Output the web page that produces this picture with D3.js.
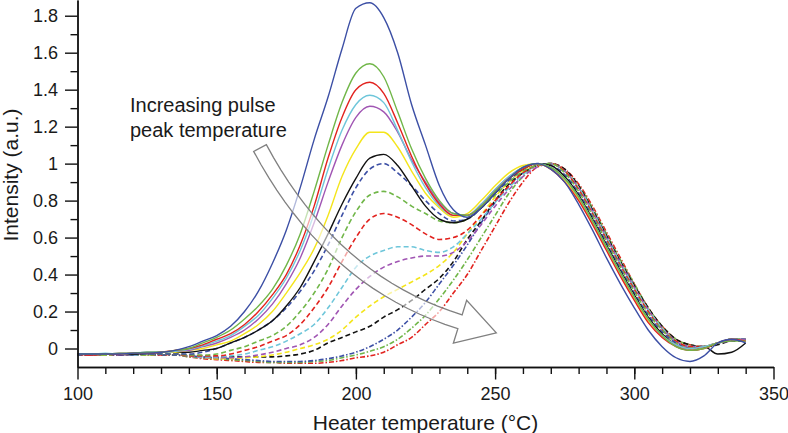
<html>
<head>
    <title>Heater temperature scans</title>
    <meta charset="UTF-8" />
    <script src="https://d3js.org/d3.v7.min.js"></script>
    <style>
        body { margin: 0; background: white; }
        text { font-family: "Liberation Sans", Arial, sans-serif; fill: #1a1a1a; }
        .axis path, .axis line { stroke: #111; stroke-width: 1.4; }
        .axis text { font-size: 18px; fill: #1a1a1a; font-family: "Liberation Sans", Arial, sans-serif; }
    </style>
</head>
<body>
    <svg id="svg" width="788" height="433"></svg>

    <script>
        // temperatures (°C), one reading every 5 degrees
        const temps = [100,105,110,115,120,125,130,
            135,140,145,150,155,160,165,170,175,180,185,190,195,
            200,205,210,215,220,225,230,235,240,245,250,255,260,
            265,270,275,280,285,290,295,300,305,310,315,320,325,330,335,340];

        // solid curves
        const blueSolid = [-0.03,-0.03,-0.03,-0.03,-0.025,-0.025,-0.02,
            -0.01,0.01,0.04,0.07,0.12,0.2,0.31,0.46,0.64,0.87,1.13,1.36,1.62,
            1.84,1.87,1.79,1.6,1.32,1.1,0.88,0.75,0.71,0.76,0.84,0.92,0.98,
            1.0,0.97,0.9,0.78,0.64,0.49,0.35,0.22,0.1,0.01,-0.05,-0.07,-0.04,0.03,0.05,0.03];
        const greenSolid = [-0.03,-0.03,-0.03,-0.025,-0.025,-0.02,-0.02,
            -0.01,0.0,0.03,0.06,0.1,0.16,0.23,0.32,0.45,0.62,0.85,1.1,1.33,
            1.49,1.54,1.47,1.28,1.08,0.92,0.8,0.73,0.72,0.77,0.85,0.92,0.98,
            1.0,0.98,0.92,0.82,0.69,0.55,0.41,0.28,0.16,0.07,0.01,-0.01,0.0,0.03,0.04,0.04];
        const redSolid = [-0.03,-0.035,-0.03,-0.03,-0.025,-0.025,-0.02,
            -0.01,0.0,0.02,0.05,0.08,0.13,0.2,0.29,0.4,0.56,0.77,1.03,1.25,
            1.4,1.44,1.38,1.22,1.04,0.89,0.78,0.72,0.72,0.77,0.85,0.92,0.97,
            1.0,0.97,0.9,0.8,0.67,0.53,0.39,0.26,0.14,0.06,0.01,-0.01,0.0,0.03,0.05,0.04];
        const cyanSolid = [-0.03,-0.03,-0.025,-0.03,-0.025,-0.02,-0.02,
            -0.015,-0.005,0.015,0.04,0.07,0.12,0.18,0.27,0.38,0.53,0.73,0.97,1.18,
            1.32,1.37,1.33,1.18,1.01,0.87,0.77,0.72,0.72,0.78,0.86,0.93,0.98,
            1.0,0.98,0.92,0.82,0.69,0.55,0.41,0.28,0.16,0.07,0.02,0.0,0.01,0.03,0.05,0.04];
        const purpleSolid = [-0.03,-0.03,-0.03,-0.025,-0.025,-0.02,-0.02,
            -0.015,-0.01,0.01,0.03,0.06,0.1,0.16,0.24,0.35,0.49,0.68,0.9,1.1,
            1.25,1.31,1.28,1.17,1.02,0.9,0.79,0.73,0.72,0.78,0.86,0.93,0.98,
            1.0,0.98,0.92,0.82,0.69,0.55,0.41,0.28,0.16,0.07,0.02,0.0,0.01,0.03,0.04,0.05];
        const yellowSolid = [-0.03,-0.03,-0.03,-0.03,-0.025,-0.025,-0.02,
            -0.02,-0.01,0.0,0.02,0.04,0.08,0.13,0.2,0.3,0.41,0.54,0.72,0.93,
            1.08,1.17,1.17,1.09,0.96,0.84,0.76,0.71,0.73,0.8,0.88,0.95,0.99,
            1.0,0.97,0.91,0.81,0.68,0.54,0.4,0.27,0.15,0.07,0.02,0.0,0.01,0.03,0.05,0.04];
        const blackSolid = [-0.03,-0.03,-0.03,-0.03,-0.03,-0.025,-0.02,
            -0.02,-0.02,-0.01,0.0,0.03,0.06,0.1,0.15,0.23,0.33,0.47,0.62,0.78,
            0.92,1.03,1.05,0.99,0.88,0.77,0.7,0.68,0.7,0.76,0.84,0.92,0.97,
            1.0,0.99,0.93,0.83,0.7,0.56,0.42,0.29,0.17,0.08,0.02,0.0,0.01,-0.03,-0.02,0.03];

        // dashed curves
        const blueDash = [-0.03,-0.03,-0.03,-0.035,-0.03,-0.03,-0.03,
            -0.03,-0.03,-0.02,0.0,0.03,0.06,0.1,0.15,0.22,0.31,0.42,0.56,0.72,
            0.87,0.97,1.0,0.95,0.88,0.8,0.73,0.69,0.7,0.76,0.84,0.91,0.97,
            1.0,0.99,0.94,0.84,0.71,0.57,0.43,0.3,0.18,0.09,0.03,0.0,0.01,0.03,0.05,0.05];
        const greenDash = [-0.03,-0.03,-0.035,-0.03,-0.03,-0.035,-0.03,
            -0.03,-0.035,-0.035,-0.03,-0.01,0.01,0.04,0.07,0.12,0.2,0.3,0.43,0.6,
            0.74,0.83,0.85,0.82,0.77,0.73,0.69,0.68,0.7,0.76,0.83,0.9,0.96,
            0.99,1.0,0.95,0.85,0.72,0.58,0.44,0.31,0.19,0.1,0.03,0.0,0.01,0.03,0.05,0.05];
        const redDash = [-0.03,-0.035,-0.03,-0.035,-0.03,-0.03,-0.035,
            -0.03,-0.04,-0.04,-0.04,-0.03,-0.01,0.01,0.04,0.07,0.13,0.22,0.33,0.47,
            0.6,0.7,0.73,0.71,0.67,0.62,0.59,0.6,0.64,0.72,0.8,0.88,0.95,
            0.99,1.0,0.96,0.86,0.73,0.59,0.45,0.32,0.2,0.1,0.04,0.01,0.01,0.03,0.05,0.04];
        const cyanDash = [-0.03,-0.03,-0.03,-0.03,-0.035,-0.03,-0.03,
            -0.03,-0.04,-0.045,-0.045,-0.04,-0.03,-0.01,0.01,0.04,0.08,0.13,0.22,0.33,
            0.44,0.5,0.53,0.55,0.55,0.53,0.52,0.55,0.62,0.7,0.79,0.87,0.94,
            0.99,1.0,0.96,0.87,0.74,0.6,0.46,0.33,0.21,0.11,0.04,0.01,0.01,0.03,0.05,0.05];
        const purpleDash = [-0.03,-0.035,-0.03,-0.03,-0.035,-0.03,-0.03,
            -0.03,-0.04,-0.05,-0.05,-0.05,-0.045,-0.035,-0.02,0.0,0.02,0.06,0.13,0.23,
            0.32,0.39,0.44,0.47,0.49,0.5,0.5,0.52,0.58,0.67,0.77,0.86,0.93,
            0.98,1.0,0.96,0.87,0.74,0.6,0.46,0.33,0.21,0.11,0.04,0.01,0.01,0.03,0.05,0.05];
        const yellowDash = [-0.03,-0.03,-0.035,-0.03,-0.03,-0.035,-0.03,
            -0.03,-0.04,-0.05,-0.055,-0.055,-0.05,-0.045,-0.035,-0.02,0.0,0.02,0.05,0.1,
            0.17,0.23,0.28,0.32,0.36,0.4,0.45,0.52,0.62,0.72,0.82,0.9,0.96,
            0.99,1.0,0.96,0.87,0.74,0.6,0.46,0.33,0.21,0.11,0.04,0.01,0.01,0.03,0.05,0.05];
        const blackDash = [-0.03,-0.035,-0.03,-0.03,-0.035,-0.03,-0.03,
            -0.03,-0.035,-0.04,-0.045,-0.045,-0.045,-0.045,-0.045,-0.04,-0.03,-0.01,0.03,0.06,
            0.09,0.12,0.17,0.21,0.26,0.32,0.38,0.47,0.59,0.69,0.8,0.89,0.95,
            0.99,1.0,0.97,0.88,0.75,0.61,0.47,0.34,0.22,0.12,0.05,0.02,0.01,0.02,0.04,0.04];

        // dash-dot curves
        const blueDashDot = [-0.035,-0.035,-0.03,-0.035,-0.035,-0.03,-0.035,
            -0.035,-0.04,-0.045,-0.05,-0.055,-0.06,-0.065,-0.07,-0.07,-0.07,-0.065,-0.055,-0.04,
            -0.02,0.01,0.05,0.1,0.17,0.25,0.35,0.45,0.56,0.68,0.79,0.88,0.95,
            0.99,1.0,0.96,0.87,0.75,0.61,0.47,0.34,0.21,0.11,0.04,0.01,0.01,0.03,0.05,0.05];
        const greenDashDot = [-0.035,-0.035,-0.035,-0.03,-0.035,-0.035,-0.035,
            -0.035,-0.045,-0.05,-0.055,-0.06,-0.065,-0.07,-0.075,-0.075,-0.075,-0.07,-0.065,-0.05,
            -0.035,-0.015,0.01,0.05,0.11,0.18,0.27,0.37,0.48,0.6,0.72,0.84,0.93,
            0.99,1.0,0.96,0.88,0.76,0.62,0.48,0.35,0.22,0.12,0.05,0.02,0.01,0.03,0.05,0.05];
        const redDashDot = [-0.035,-0.035,-0.035,-0.035,-0.03,-0.035,-0.035,
            -0.035,-0.045,-0.055,-0.06,-0.065,-0.07,-0.075,-0.075,-0.08,-0.08,-0.08,-0.075,-0.065,
            -0.05,-0.04,-0.02,0.02,0.06,0.13,0.2,0.3,0.4,0.53,0.66,0.79,0.9,
            0.98,1.0,0.97,0.89,0.77,0.63,0.49,0.35,0.22,0.12,0.05,0.02,0.01,0.03,0.05,0.04];

        // tick labels
        const xTicks = [100, 150, 200, 250, 300, 350];
        const yTicks = [0, 0.2, 0.4, 0.6, 0.8, 1, 1.2, 1.4, 1.6, 1.8];

        const colors = {blue: "#3c4fa5", green: "#70b648", red: "#e2231f", cyan: "#6ec6da",
                        purple: "#a055b3", yellow: "#f4e51b", black: "#111111"};
        const dashed = "5,3";
        const dashDot = "5,2,1.5,2";

        // drawn bottom first
        const series = [
            {values: redDashDot, color: colors.red, dash: dashDot},
            {values: greenDashDot, color: colors.green, dash: dashDot},
            {values: blueDashDot, color: colors.blue, dash: dashDot},
            {values: blackDash, color: colors.black, dash: dashed},
            {values: yellowDash, color: colors.yellow, dash: dashed},
            {values: purpleDash, color: colors.purple, dash: dashed},
            {values: cyanDash, color: colors.cyan, dash: dashed},
            {values: redDash, color: colors.red, dash: dashed},
            {values: greenDash, color: colors.green, dash: dashed},
            {values: blueDash, color: colors.blue, dash: dashed},
            {values: blackSolid, color: colors.black, dash: null},
            {values: yellowSolid, color: colors.yellow, dash: null},
            {values: purpleSolid, color: colors.purple, dash: null},
            {values: cyanSolid, color: colors.cyan, dash: null},
            {values: redSolid, color: colors.red, dash: null},
            {values: greenSolid, color: colors.green, dash: null},
            {values: blueSolid, color: colors.blue, dash: null}
        ];

        const svg = d3.select("svg#svg");
        const plotLeft = 77.5, plotRight = 773.5, plotTop = 0, plotBottom = 367;

        const xScale = d3.scaleLinear().domain([100, 350]).range([plotLeft, plotRight]);
        const yScale = d3.scaleLinear().domain([-0.1, 1.885]).range([plotBottom, plotTop]);

        // curves
        const line = d3.line()
            .x((d, i) => xScale(temps[i]))
            .y(d => yScale(d))
            .curve(d3.curveMonotoneX);

        svg.append("g").attr("id", "curves")
            .selectAll("path").data(series)
            .join("path")
            .attr("d", d => line(d.values))
            .attr("fill", "none")
            .attr("stroke", d => d.color)
            .attr("stroke-width", d => d.dash ? 1.6 : 1.4)
            .attr("stroke-dasharray", d => d.dash);

        // axes with minor ticks
        svg.append("g").attr("class", "axis")
            .attr("transform", "translate(0," + plotBottom + ")")
            .call(d3.axisBottom(xScale).tickValues(d3.range(110, 350, 10)).tickSize(7).tickFormat("").tickSizeOuter(0));
        svg.append("g").attr("class", "axis")
            .attr("transform", "translate(0," + plotBottom + ")")
            .call(d3.axisBottom(xScale).tickValues(xTicks).tickSize(12.5).tickPadding(8).tickSizeOuter(0));

        svg.append("g").attr("class", "axis")
            .attr("transform", "translate(" + plotLeft + ",0)")
            .call(d3.axisLeft(yScale).tickValues(d3.range(1, 19, 2).map(k => k / 10)).tickSize(7).tickFormat("").tickSizeOuter(0));
        svg.append("g").attr("class", "axis")
            .attr("transform", "translate(" + plotLeft + ",0)")
            .call(d3.axisLeft(yScale).tickValues(yTicks).tickSize(12.5).tickPadding(7).tickSizeOuter(0)
                .tickFormat(d => String(+d.toFixed(1))));

        // axis titles
        svg.append("text")
            .attr("x", (plotLeft + plotRight) / 2)
            .attr("y", 430)
            .attr("text-anchor", "middle")
            .style("font-size", "21px")
            .text("Heater temperature (°C)");

        svg.append("text")
            .attr("transform", "translate(17.5,175) rotate(-90)")
            .attr("text-anchor", "middle")
            .style("font-size", "21px")
            .text("Intensity (a.u.)");

        // annotation: hollow curved arrow
        const p0 = [260, 148], pc = [331.6, 282], p1 = [460, 321.7];
        const halfW = 7.2, headHalf = 22.5, headLen = 38;
        const bez = t => [
            (1 - t) * (1 - t) * p0[0] + 2 * (1 - t) * t * pc[0] + t * t * p1[0],
            (1 - t) * (1 - t) * p0[1] + 2 * (1 - t) * t * pc[1] + t * t * p1[1]];
        const tan = t => {
            const dx = 2 * (1 - t) * (pc[0] - p0[0]) + 2 * t * (p1[0] - pc[0]);
            const dy = 2 * (1 - t) * (pc[1] - p0[1]) + 2 * t * (p1[1] - pc[1]);
            const l = Math.hypot(dx, dy);
            return [dx / l, dy / l];
        };
        const steps = d3.range(0, 1.0001, 0.05);
        const upper = steps.map(t => { const p = bez(t), d = tan(t); return [p[0] + d[1] * halfW, p[1] - d[0] * halfW]; });
        const lower = steps.map(t => { const p = bez(t), d = tan(t); return [p[0] - d[1] * halfW, p[1] + d[0] * halfW]; });
        const de = tan(1);
        const head = [
            [p1[0] + de[1] * headHalf, p1[1] - de[0] * headHalf],
            [p1[0] + de[0] * headLen, p1[1] + de[1] * headLen],
            [p1[0] - de[1] * headHalf, p1[1] + de[0] * headHalf]
        ];
        const outline = upper.concat(head, lower.reverse());

        svg.append("path")
            .attr("d", d3.line()(outline) + "Z")
            .attr("fill", "white")
            .attr("fill-opacity", 0.6)
            .attr("stroke", "#808080")
            .attr("stroke-width", 1.3)
            .attr("stroke-linejoin", "miter");

        const note = svg.append("text")
            .attr("x", 130)
            .attr("y", 111.5)
            .style("font-size", "20px");
        note.append("tspan").attr("x", 130).text("Increasing pulse");
        note.append("tspan").attr("x", 130).attr("dy", 25).text("peak temperature");
    </script>
</body>
</html>
